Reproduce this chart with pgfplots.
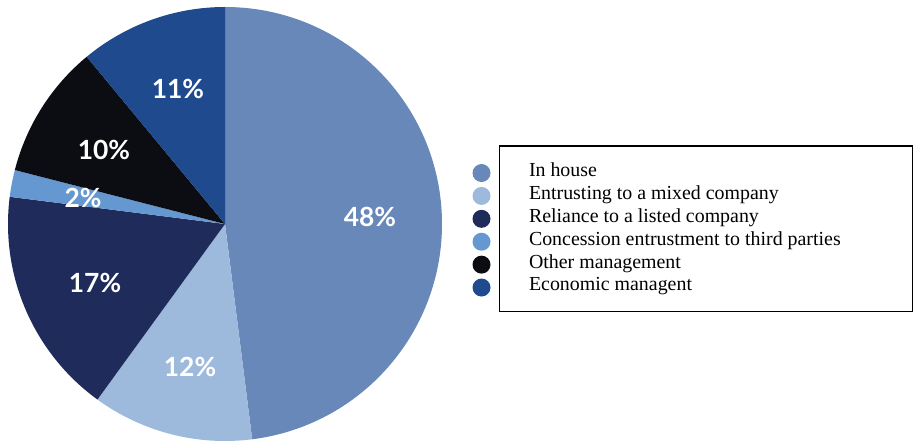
\documentclass[border=0pt]{standalone}
\usepackage{pgfplots}
\pgfplotsset{compat=1.18}
\usepackage{pgfplotstable}
\usepackage{fontspec}
\setmainfont{Liberation Serif}
\newfontfamily\pctfont{Lato}
\definecolor{c0}{HTML}{6788B8}
\definecolor{c1}{HTML}{9DB9DC}
\definecolor{c2}{HTML}{1F2B5B}
\definecolor{c3}{HTML}{6598D0}
\definecolor{c4}{HTML}{0C0D12}
\definecolor{c5}{HTML}{1F4A8E}
\pgfplotstableread{
value
48
12
17
2
10
11
}\piedata
\pgfplotstableread{
x y label
0.668 0.032 48\%
-0.161 -0.659 12\%
-0.599 -0.272 17\%
-0.654 0.120 2\%
-0.558 0.341 10\%
-0.217 0.622 11\%
}\pielabels
\begin{document}
\begin{tikzpicture}
\def\cumangle{90}
\pgfplotsforeachungrouped \i in {0,...,5}{%
  \pgfplotstablegetelem{\i}{value}\of\piedata
  \pgfmathsetmacro\endang{\cumangle-3.6*\pgfplotsretval}%
  \expandafter\xdef\csname pieS\i\endcsname{\cumangle}%
  \expandafter\xdef\csname pieE\i\endcsname{\endang}%
  \xdef\cumangle{\endang}%
}
\begin{axis}[
  scale only axis, width=217pt, height=217pt,
  at={(112.5pt,110pt)}, anchor=center,
  xmin=-1, xmax=1, ymin=-1, ymax=1,
  hide axis, clip=false,
  legend image code/.code={\fill[#1] (0pt,0pt) circle (4.5pt); \path (23.75pt,0pt);},
  legend style={at={(1.0703,0.6438)}, anchor=north west, draw=none, fill=none,
    inner sep=0pt, outer sep=0pt, row sep=0pt, column sep=0pt,
    font=\fontsize{9.95}{9.95}\selectfont,
    nodes={inner sep=0pt, text height=7.45pt, text depth=4pt}},
  legend cell align=left,
]
\pgfplotsinvokeforeach{0,...,5}{
  \fill[c#1] (axis cs:0,0) -- ++(\csname pieS#1\endcsname:108.5pt)
    arc[start angle=\csname pieS#1\endcsname, end angle=\csname pieE#1\endcsname, radius=108.5pt] -- cycle;
}
\addplot[forget plot, only marks, mark=none, nodes near coords, point meta=explicit symbolic,
  every node near coord/.append style={anchor=center, text=white, font=\pctfont\bfseries\fontsize{13.2}{13.2}\selectfont}]
  table[x=x, y=y, meta=label] {\pielabels};
\addlegendimage{fill=c0, draw=none}
\addlegendentry{In house}
\addlegendimage{fill=c1, draw=none}
\addlegendentry{Entrusting to a mixed company}
\addlegendimage{fill=c2, draw=none}
\addlegendentry{Reliance to a listed company}
\addlegendimage{fill=c3, draw=none}
\addlegendentry{Concession entrustment to third parties}
\addlegendimage{fill=c4, draw=none}
\addlegendentry{Other management}
\addlegendimage{fill=c5, draw=none}
\addlegendentry{Economic managent}
\end{axis}
\draw[line width=0.75pt] (249.75pt,66.25pt) rectangle (456.25pt,149pt);
\pgfresetboundingbox
\useasboundingbox (0,0) rectangle (457pt,222pt);
\end{tikzpicture}
\end{document}
